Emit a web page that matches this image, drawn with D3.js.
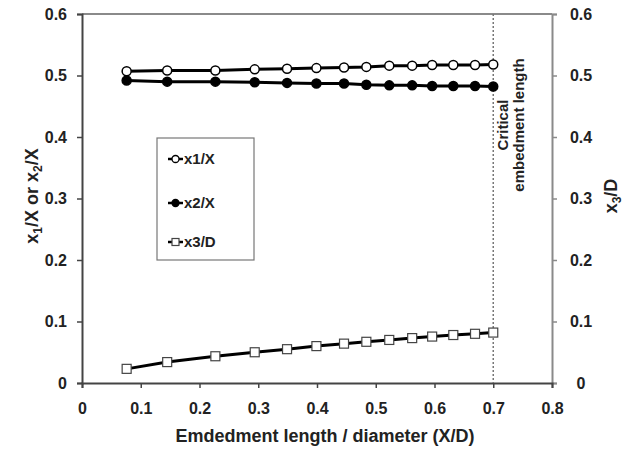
<!DOCTYPE html>
<html>
<head>
<meta charset="utf-8">
<script src="https://cdn.jsdelivr.net/npm/d3@7"></script>
<style>
  body { margin: 0; background: #fff; }
  svg { font-family: "Liberation Sans", Arial, sans-serif; font-weight: bold; }
</style>
</head>
<body>
<svg id="chart" width="638" height="453"></svg>
<script>
// values
const ratio = [0.076, 0.145, 0.227, 0.294, 0.349, 0.399, 0.446, 0.484, 0.523, 0.562, 0.596, 0.632, 0.669, 0.7]
const x1X = [0.507, 0.508, 0.508, 0.510, 0.511, 0.512, 0.513, 0.514, 0.516, 0.516, 0.517, 0.517, 0.517, 0.518]
const x2X = [0.492, 0.490, 0.490, 0.489, 0.488, 0.487, 0.487, 0.485, 0.484, 0.484, 0.483, 0.483, 0.483, 0.482]
const x3D = [0.023, 0.034, 0.0435, 0.050, 0.055, 0.060, 0.064, 0.067, 0.070, 0.073, 0.0755, 0.078, 0.080, 0.082]
const xTicks = [0, 0.1, 0.2, 0.3, 0.4, 0.5, 0.6, 0.7, 0.8]
const yTicks = [0, 0.1, 0.2, 0.3, 0.4, 0.5, 0.6]
const criticalRatio = 0.7

const svg = d3.select("#chart")
const margin = { top: 14, right: 86, bottom: 70, left: 82 }
const width = 638, height = 453

const x = d3.scaleLinear().domain([0, 0.8]).range([margin.left, width - margin.right])
const y = d3.scaleLinear().domain([0, 0.6]).range([height - margin.bottom, margin.top])
const y2 = d3.scaleLinear().domain([0, 0.6]).range([height - margin.bottom, margin.top])

const fmt = d => d === 0 ? "0" : d3.format(".1f")(d)

// top frame line
svg.append("line")
  .attr("x1", x(0)).attr("x2", x(0.8))
  .attr("y1", y(0.6)).attr("y2", y(0.6))
  .attr("stroke", "#8a8a8a").attr("stroke-width", 2)

// right axis (grey)
const rAxis = svg.append("g")
  .attr("transform", `translate(${x(0.8)},0)`)
  .call(d3.axisRight(y2).tickValues(yTicks).tickFormat(fmt).tickSize(5).tickPadding(24))
rAxis.select(".domain").attr("stroke", "#8a8a8a").attr("stroke-width", 2)
rAxis.selectAll(".tick line").attr("stroke", "#8a8a8a").attr("stroke-width", 1.5)
rAxis.selectAll("text").attr("font-size", 16).attr("fill", "#222").attr("font-weight", "bold")
  .attr("text-anchor", "middle")

// left axis
const lAxis = svg.append("g")
  .attr("transform", `translate(${x(0)},0)`)
  .call(d3.axisLeft(y).tickValues(yTicks).tickFormat(fmt).tickSize(5).tickPadding(10))
lAxis.select(".domain").attr("stroke", "#444").attr("stroke-width", 2)
lAxis.selectAll(".tick line").attr("stroke", "#444").attr("stroke-width", 1.5)
lAxis.selectAll("text").attr("font-size", 16).attr("fill", "#222").attr("font-weight", "bold")

// bottom axis
const bAxis = svg.append("g")
  .attr("transform", `translate(0,${y(0)})`)
  .call(d3.axisBottom(x).tickValues(xTicks).tickFormat(fmt).tickSize(5).tickPadding(15))
bAxis.select(".domain").attr("stroke", "#444").attr("stroke-width", 2)
bAxis.selectAll(".tick line").attr("stroke", "#444").attr("stroke-width", 1.5)
bAxis.selectAll("text").attr("font-size", 16).attr("fill", "#222").attr("font-weight", "bold")

// critical embedment length marker
svg.append("line")
  .attr("x1", x(criticalRatio)).attr("x2", x(criticalRatio))
  .attr("y1", y(0.6)).attr("y2", y(0))
  .attr("stroke", "#777").attr("stroke-width", 1.5).attr("stroke-dasharray", "2,2")

const crit = svg.append("text")
  .attr("transform", `translate(${x(criticalRatio) + 15},125) rotate(-90)`)
  .attr("text-anchor", "middle").attr("font-size", 15).attr("fill", "#222")
crit.append("tspan").attr("x", 0).attr("dy", 0).text("Critical")
crit.append("tspan").attr("x", 0).attr("dy", 16).text("embedment length")

// series
const series = [
  { name: "x1/X", vals: x1X, scale: y, shape: "circle", fill: "#fff" },
  { name: "x2/X", vals: x2X, scale: y, shape: "circle", fill: "#000" },
  { name: "x3/D", vals: x3D, scale: y2, shape: "square", fill: "#fff" }
]

const line = d3.line()
series.forEach(s => {
  const pts = ratio.map((r, i) => [x(r), s.scale(s.vals[i])])
  svg.append("path")
    .attr("d", line(pts))
    .attr("fill", "none").attr("stroke", "#000").attr("stroke-width", 3)
  const g = svg.append("g")
  if (s.shape === "circle") {
    g.selectAll("circle").data(pts).join("circle")
      .attr("cx", d => d[0]).attr("cy", d => d[1]).attr("r", 4.5)
      .attr("fill", s.fill).attr("stroke", "#000").attr("stroke-width", 1.5)
  } else {
    g.selectAll("rect").data(pts).join("rect")
      .attr("x", d => d[0] - 4.5).attr("y", d => d[1] - 4.5)
      .attr("width", 9).attr("height", 9)
      .attr("fill", s.fill).attr("stroke", "#444").attr("stroke-width", 1.2)
  }
})

// legend
const legend = svg.append("g").attr("transform", "translate(157,138)")
legend.append("rect")
  .attr("width", 97).attr("height", 122)
  .attr("fill", "#fff").attr("stroke", "#777").attr("stroke-width", 1.2)
const legendY = [21, 65, 104]
series.forEach((s, i) => {
  const ly = legendY[i]
  legend.append("line")
    .attr("x1", 11).attr("x2", 26).attr("y1", ly).attr("y2", ly)
    .attr("stroke", "#000").attr("stroke-width", 2.5)
  if (s.shape === "circle") {
    legend.append("circle").attr("cx", 18.5).attr("cy", ly).attr("r", 3.5)
      .attr("fill", s.fill).attr("stroke", "#000").attr("stroke-width", 1.3)
  } else {
    legend.append("rect").attr("x", 15).attr("y", ly - 3.5).attr("width", 7).attr("height", 7)
      .attr("fill", s.fill).attr("stroke", "#444").attr("stroke-width", 1.2)
  }
  legend.append("text")
    .attr("x", 27).attr("y", ly + 5)
    .attr("font-size", 15).attr("fill", "#222")
    .text(s.name)
})

// axis titles
svg.append("text")
  .attr("x", (x(0) + x(0.8)) / 2 + 8).attr("y", 442)
  .attr("text-anchor", "middle").attr("font-size", 18).attr("fill", "#222")
  .text("Emdedment length / diameter (X/D)")

const yl = svg.append("text")
  .attr("transform", `translate(38,196) rotate(-90)`)
  .attr("text-anchor", "middle").attr("font-size", 18).attr("fill", "#222")
yl.append("tspan").text("x")
yl.append("tspan").attr("font-size", 12).attr("dy", 4).text("1")
yl.append("tspan").attr("dy", -4).text("/X or x")
yl.append("tspan").attr("font-size", 12).attr("dy", 4).text("2")
yl.append("tspan").attr("dy", -4).text("/X")

const yr = svg.append("text")
  .attr("transform", `translate(617,196) rotate(-90)`)
  .attr("text-anchor", "middle").attr("font-size", 18).attr("fill", "#222")
yr.append("tspan").text("x")
yr.append("tspan").attr("font-size", 12).attr("dy", 4).text("3")
yr.append("tspan").attr("dy", -4).text("/D")
</script>
</body>
</html>
